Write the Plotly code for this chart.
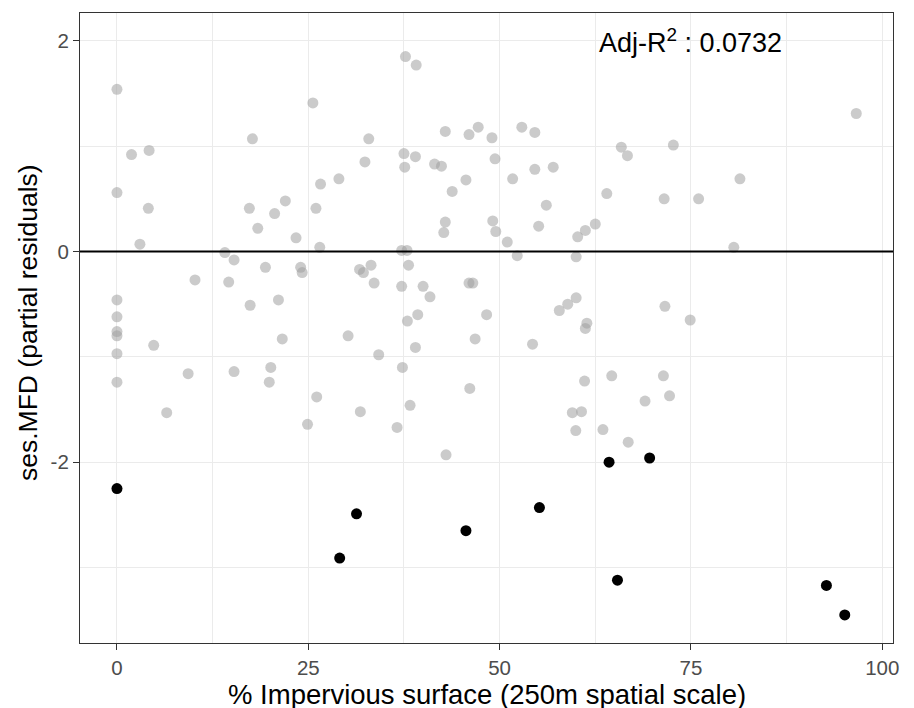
import plotly.graph_objects as go

# Gray points (all observations): % impervious surface, partial residuals
gray_x = [0, 37.7, 39.1, 25.6, 17.7, 32.9, 1.9, 4.2, 42.9, 46.0, 47.2, 49.0, 37.5, 39.0, 37.6, 32.4,
          41.5, 42.4, 49.4, 26.6, 29.0, 45.6, 43.8, 0, 4.1, 17.3, 20.6, 22.0, 18.4, 23.4, 26.0, 26.5,
          3.0, 42.9, 42.7, 49.1, 49.5, 37.2, 37.9,
          96.6, 52.9, 54.6, 51.7, 54.6, 57.0, 56.1, 51.0, 55.1, 60.2, 61.2, 62.5, 64.0, 65.9, 66.7,
          72.7, 71.5, 76.0, 81.4, 80.6,
          14.1, 15.3, 19.4, 24.0, 24.2, 31.7, 32.2, 33.2, 38.1, 10.2, 14.6, 33.6, 37.2, 40.0, 40.9,
          46.0, 46.5, 0, 17.4, 21.1, 0, 37.95, 39.3, 48.3, 0, 0, 0, 0, 4.8, 9.3, 6.5, 15.3, 20.1,
          19.9, 21.6, 26.1, 24.9, 30.2, 31.8, 34.2, 37.3, 38.3, 36.6, 39.0, 46.8, 46.1, 43.0,
          52.3, 60.0, 60.0, 58.9, 57.8, 61.4, 61.2, 71.6, 74.9, 54.3, 61.1, 64.65, 71.4, 72.2, 69.0,
          59.5, 60.7, 59.95, 63.5, 66.8]
gray_y = [1.54, 1.85, 1.77, 1.41, 1.07, 1.07, 0.92, 0.96, 1.14, 1.11, 1.18, 1.08, 0.93, 0.90, 0.80, 0.85,
          0.83, 0.81, 0.88, 0.64, 0.69, 0.68, 0.57, 0.56, 0.41, 0.41, 0.36, 0.48, 0.22, 0.13, 0.41, 0.04,
          0.07, 0.28, 0.18, 0.29, 0.19, 0.01, 0.01,
          1.31, 1.18, 1.13, 0.69, 0.78, 0.80, 0.44, 0.09, 0.24, 0.14, 0.20, 0.26, 0.55, 0.99, 0.91,
          1.01, 0.50, 0.50, 0.69, 0.04,
          -0.01, -0.08, -0.15, -0.15, -0.20, -0.17, -0.20, -0.13, -0.13, -0.27, -0.29, -0.30, -0.33, -0.33, -0.43,
          -0.30, -0.30, -0.46, -0.51, -0.46, -0.62, -0.66, -0.60, -0.60, -0.76, -0.80, -0.97, -1.24, -0.89, -1.16, -1.53, -1.14, -1.10,
          -1.24, -0.83, -1.38, -1.64, -0.80, -1.52, -0.98, -1.10, -1.46, -1.67, -0.91, -0.83, -1.30, -1.93,
          -0.04, -0.05, -0.44, -0.50, -0.56, -0.68, -0.73, -0.52, -0.65, -0.88, -1.23, -1.18, -1.18, -1.37, -1.42,
          -1.53, -1.52, -1.70, -1.69, -1.81]

# Highlighted (black) points
black_x = [0, 31.3, 29.1, 45.6, 55.2, 65.4, 92.7, 95.1, 64.3, 69.6]
black_y = [-2.25, -2.49, -2.91, -2.65, -2.43, -3.12, -3.17, -3.45, -2.00, -1.96]

x_ticks = [0, 25, 50, 75, 100]
x_tick_labels = ["0", "25", "50", "75", "100"]
x_minor = [12.5, 37.5, 62.5, 87.5]
y_ticks = [-2, 0, 2]
y_tick_labels = ["-2", "0", "2"]
y_minor = [-3, -1, 1]

x_title = "% Impervious surface (250m spatial scale)"
y_title = "ses.MFD (partial residuals)"
r2_text = "Adj-R<sup>2</sup> : 0.0732"
r2_pos = (75, 2)

FONT = "Liberation Sans, Arial, Helvetica, sans-serif"
GRID = "#EBEBEB"
AXC = "#333333"

fig = go.Figure()
fig.add_trace(go.Scatter(
    x=gray_x, y=gray_y, mode="markers",
    marker=dict(size=11, color="rgba(160,160,160,0.55)", line=dict(width=0)),
    showlegend=False, hoverinfo="x+y"))
fig.add_trace(go.Scatter(
    x=black_x, y=black_y, mode="markers",
    marker=dict(size=11, color="black", line=dict(width=0)),
    showlegend=False, hoverinfo="x+y"))

fig.add_hline(y=0, line=dict(color="black", width=2))

fig.add_annotation(x=r2_pos[0], y=r2_pos[1], xref="x", yref="y", text=r2_text,
                   showarrow=False, xanchor="center", yanchor="middle",
                   font=dict(family=FONT, size=27, color="black"))

# axis titles as paper-anchored annotations
fig.add_annotation(x=0.5, y=0, xref="paper", yref="paper", text=x_title, showarrow=False,
                   xanchor="center", yanchor="middle", yshift=-51,
                   font=dict(family=FONT, size=27.5, color="black"))
fig.add_annotation(x=0, y=0.5, xref="paper", yref="paper", text=y_title, showarrow=False,
                   xanchor="center", yanchor="middle", xshift=-52, yshift=5, textangle=-90,
                   font=dict(family=FONT, size=26.5, color="black"))

axis_common = dict(
    showline=True, mirror=True, linecolor=AXC, linewidth=1.2,
    ticks="outside", ticklen=6, tickwidth=1.1, tickcolor=AXC,
    showgrid=True, gridcolor=GRID, gridwidth=1.2, zeroline=False,
    tickfont=dict(family=FONT, size=20.5, color="#4D4D4D"),
    automargin=False,
)

fig.update_layout(
    width=914, height=708,
    margin=dict(l=80, r=21, t=13, b=65),
    paper_bgcolor="white", plot_bgcolor="white",
    font=dict(family=FONT),
    xaxis=dict(range=[-4.83, 101.4], tickmode="array", tickvals=x_ticks, ticktext=x_tick_labels,
               minor=dict(tickmode="array", tickvals=x_minor, showgrid=True, gridcolor=GRID,
                          gridwidth=0.8, ticks=""),
               **axis_common),
    yaxis=dict(range=[-3.716, 2.264], tickmode="array", tickvals=y_ticks, ticktext=y_tick_labels,
               minor=dict(tickmode="array", tickvals=y_minor, showgrid=True, gridcolor=GRID,
                          gridwidth=0.8, ticks=""),
               **axis_common),
)

fig.write_html("out.html", config={"displayModeBar": False},
               post_script="document.body.style.margin='0';document.body.style.padding='0';"
                           "document.body.style.overflow='hidden';")
